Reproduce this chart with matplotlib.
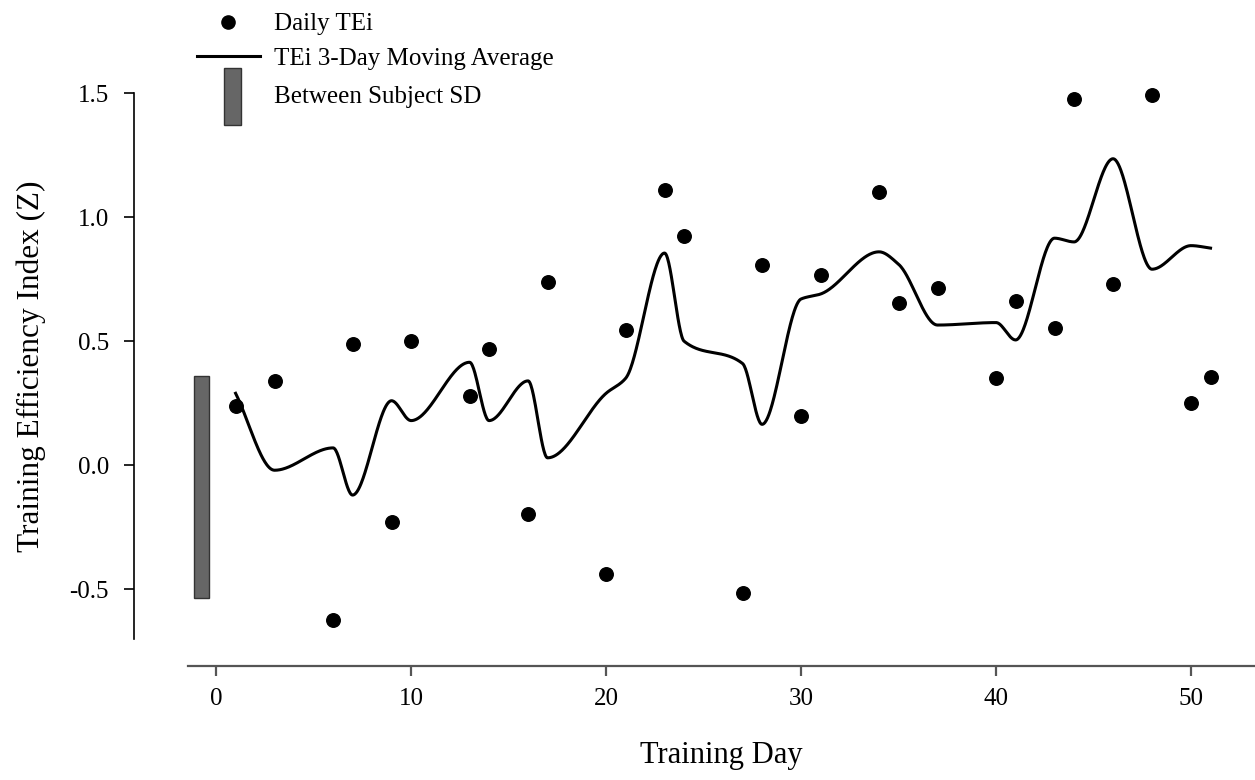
import numpy as np
import matplotlib
matplotlib.use("Agg")
import matplotlib.pyplot as plt
from matplotlib.lines import Line2D
from matplotlib.patches import Rectangle

plt.rcParams['font.family'] = ['Liberation Serif', 'DejaVu Serif']

# daily TEi values
days = [1, 3, 6, 7, 9, 10, 13, 14, 16, 17, 20, 21, 23, 24, 27, 28, 30, 31,
        34, 35, 37, 40, 41, 43, 44, 46, 48, 50, 51]
daily_tei = [0.24, 0.34, -0.625, 0.49, -0.23, 0.50, 0.28, 0.47, -0.195, 0.74,
             -0.44, 0.545, 1.11, 0.925, -0.515, 0.805, 0.20, 0.765, 1.10, 0.655,
             0.715, 0.35, 0.66, 0.555, 1.475, 0.73, 1.49, 0.25, 0.355]

# 3-day moving average (at each training day)
moving_avg = [0.29, -0.02, 0.07, -0.12, 0.26, 0.18, 0.415, 0.18, 0.34, 0.03,
              0.29, 0.35, 0.855, 0.50, 0.41, 0.165, 0.67, 0.69, 0.86, 0.81,
              0.565, 0.575, 0.505, 0.915, 0.90, 1.235, 0.79, 0.885, 0.875]

# between subject SD bar
sd_day = -0.75
sd_low = -0.535
sd_high = 0.36

x_ticks = [0, 10, 20, 30, 40, 50]
y_ticks = [-0.5, 0.0, 0.5, 1.0, 1.5]
y_ticklabels = ['-0.5', '0.0', '0.5', '1.0', '1.5']


def pchip(x, y, xs):
    # monotone cubic curve through the points, like a spline line in SigmaPlot
    x = np.asarray(x, float)
    y = np.asarray(y, float)
    h = np.diff(x)
    d = np.diff(y) / h
    m = np.zeros_like(y)
    m[0] = d[0]
    m[-1] = d[-1]
    for k in range(1, len(x) - 1):
        if d[k - 1] * d[k] > 0:
            w1 = 2 * h[k] + h[k - 1]
            w2 = h[k] + 2 * h[k - 1]
            m[k] = (w1 + w2) / (w1 / d[k - 1] + w2 / d[k])
    idx = np.clip(np.searchsorted(x, xs) - 1, 0, len(x) - 2)
    t = (xs - x[idx]) / h[idx]
    h00 = 2 * t**3 - 3 * t**2 + 1
    h10 = t**3 - 2 * t**2 + t
    h01 = -2 * t**3 + 3 * t**2
    h11 = t**3 - t**2
    return h00 * y[idx] + h10 * h[idx] * m[idx] + h01 * y[idx + 1] + h11 * h[idx] * m[idx + 1]


W, H = 1255, 780
fig = plt.figure(figsize=(W / 100, H / 100), dpi=100)
ax = fig.add_axes([188 / W, (H - 639) / H, (W - 188) / W, (639 - 93) / H])

xs = np.linspace(days[0], days[-1], 1500)
ax.plot(xs, pchip(days, moving_avg, xs), color='black', lw=2.2, clip_on=False)
ax.scatter(days, daily_tei, s=95, color='black', zorder=3, clip_on=False)
ax.bar(sd_day, sd_high - sd_low, bottom=sd_low, width=0.8, color='#666666',
       edgecolor='#333333', lw=1, clip_on=False)

ax.set_xlim(-1.44, 53.28)
ax.set_ylim(-0.70, 1.5)

for s in ['top', 'right']:
    ax.spines[s].set_visible(False)
ax.spines['left'].set_position(('outward', 38.9))
ax.spines['bottom'].set_position(('outward', 19.4))
ax.spines['left'].set_linewidth(1.2)
ax.spines['bottom'].set_linewidth(1.6)
ax.spines['bottom'].set_color('#555555')

ax.set_xticks(x_ticks)
ax.set_yticks(y_ticks)
ax.set_yticklabels(y_ticklabels)
ax.tick_params(axis='y', length=7, width=1.2, pad=11, labelsize=18)
ax.tick_params(axis='x', length=7, width=1.6, color='#555555', pad=9, labelsize=18)

ax.set_xlabel('Training Day', fontsize=22, labelpad=22)
ax.set_ylabel('Training Efficiency Index (Z)', fontsize=22.5, labelpad=17)


# legend drawn by hand above the plot
def px(x, y):
    return x / W, 1 - y / H


fig.add_artist(Line2D([px(228, 0)[0]], [px(0, 22)[1]], marker='o', ms=9.5,
                      color='black', transform=fig.transFigure))
fig.add_artist(Line2D([px(197, 0)[0], px(260, 0)[0]], [px(0, 56)[1]] * 2,
                      color='black', lw=2.2, transform=fig.transFigure))
fig.add_artist(Rectangle(px(224, 125), 17 / W, 57 / H, facecolor='#666666',
                         edgecolor='#333333', lw=1, transform=fig.transFigure))
fig.text(*px(274, 24), 'Daily TEi', fontsize=18, va='center')
fig.text(*px(274, 59), 'TEi 3-Day Moving Average', fontsize=18, va='center')
fig.text(*px(274, 97), 'Between Subject SD', fontsize=18, va='center')

fig.savefig('out.png', dpi=100)
